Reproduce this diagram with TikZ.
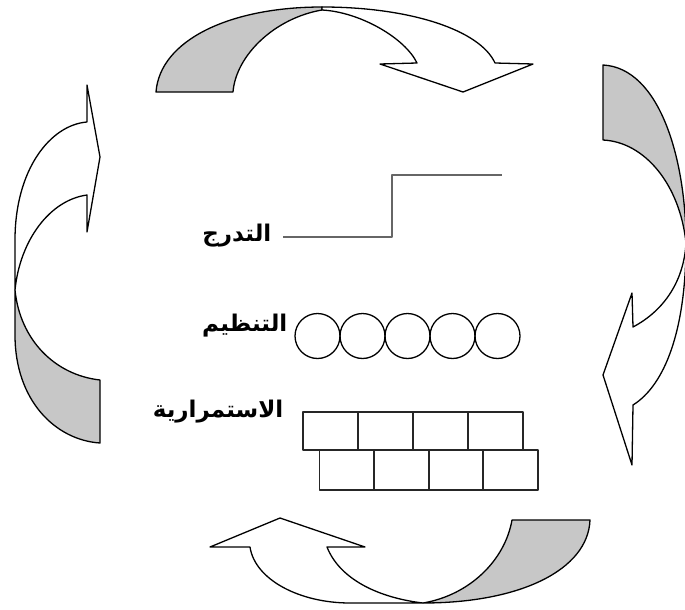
\documentclass[tikz,border=0pt]{standalone}
\usepackage{fontspec}
\newfontfamily\arabicfont[Script=Arabic]{DejaVu Sans}
\TeXXeTstate=1

\begin{document}
\begin{tikzpicture}
            [x=1pt, y=-1pt, line width=1.3pt, line join=round,
             front/.style={draw=black, fill=white},
             back/.style={draw=black, fill=black!22},
             word/.style={font=\arabicfont\bfseries\fontsize{23}{26}\selectfont, anchor=east, inner sep=0pt},
             ring/.style={shape=circle, draw=black, minimum size=45pt, inner sep=0pt},
             brick/.style={shape=rectangle, draw=black!85, line width=1.6pt, minimum width=55pt, minimum height=38pt, inner sep=0pt},
             stair/.style={draw=black!60, line width=1.6pt}]
            \useasboundingbox (0,0) rectangle (685,610);

            % top arrow
            \path[back] (156,92) .. controls (160,40) and (230,7) .. (322,7) -- (322,10)
                .. controls (275,18) and (236,55) .. (233,92) -- cycle;
            \path[front] (322,7) .. controls (410,7) and (480,30) .. (495,63) -- (533,64) -- (463,92)
                -- (380,64) -- (417,63) .. controls (405,38) and (360,12) .. (322,10) -- cycle;

            % right arrow
            \path[back] (603,65) .. controls (660,68) and (686,160) .. (686,243)
                .. controls (680,185) and (645,142) .. (603,140) -- cycle;
            \path[front] (686,243) .. controls (686,330) and (665,385) .. (633,405) -- (632,465) -- (603,375)
                -- (632,293) -- (633,327) .. controls (665,310) and (684,280) .. (686,243) -- cycle;

            % bottom arrow
            \path[back] (512,520) -- (590,520) .. controls (588,570) and (520,603) .. (423,603)
                .. controls (470,595) and (505,560) .. (512,520) -- cycle;
            \path[front] (423,603) -- (350,603) .. controls (300,603) and (255,580) .. (250,547) -- (210,547)
                -- (280,518) -- (365,547) -- (327,547) .. controls (340,580) and (380,598) .. (423,603) -- cycle;

            % left arrow
            \path[back] (15,290) -- (15,335) .. controls (15,400) and (55,440) .. (100,443) -- (100,380)
                .. controls (55,375) and (20,340) .. (15,290) -- cycle;
            \path[front] (15,290) -- (15,240) .. controls (15,170) and (50,125) .. (87,122) -- (87,85)
                -- (100,157) -- (87,232) -- (87,195) .. controls (50,200) and (20,240) .. (15,290) -- cycle;

            % labels
            \node[word] (tadrij) at (272,236) {\beginR التدرج\endR};
            \node[word] (tanzim) at (288,326) {\beginR التنظيم\endR};
            \node[word] (istimrar) at (284,412) {\beginR الاستمرارية\endR};

            % steps
            \draw[stair] (283,237) -- (392,237) -- (392,175) -- (502,175);

            % circles
            \node[ring] (c1) at (317.5,336) {};
            \node[ring] (c2) at (362.5,336) {};
            \node[ring] (c3) at (407.5,336) {};
            \node[ring] (c4) at (452.5,336) {};
            \node[ring] (c5) at (497.5,336) {};

            % bricks
            \node[brick] (b1) at (330.5,431) {};
            \node[brick] (b2) at (385.5,431) {};
            \node[brick] (b3) at (440.5,431) {};
            \node[brick] (b4) at (495.5,431) {};
            \node[brick, minimum height=40pt] (b5) at (347,470) {};
            \node[brick, minimum height=40pt] (b6) at (401.5,470) {};
            \node[brick, minimum height=40pt] (b7) at (456,470) {};
            \node[brick, minimum height=40pt] (b8) at (510.5,470) {};
        \end{tikzpicture}
\end{document}
